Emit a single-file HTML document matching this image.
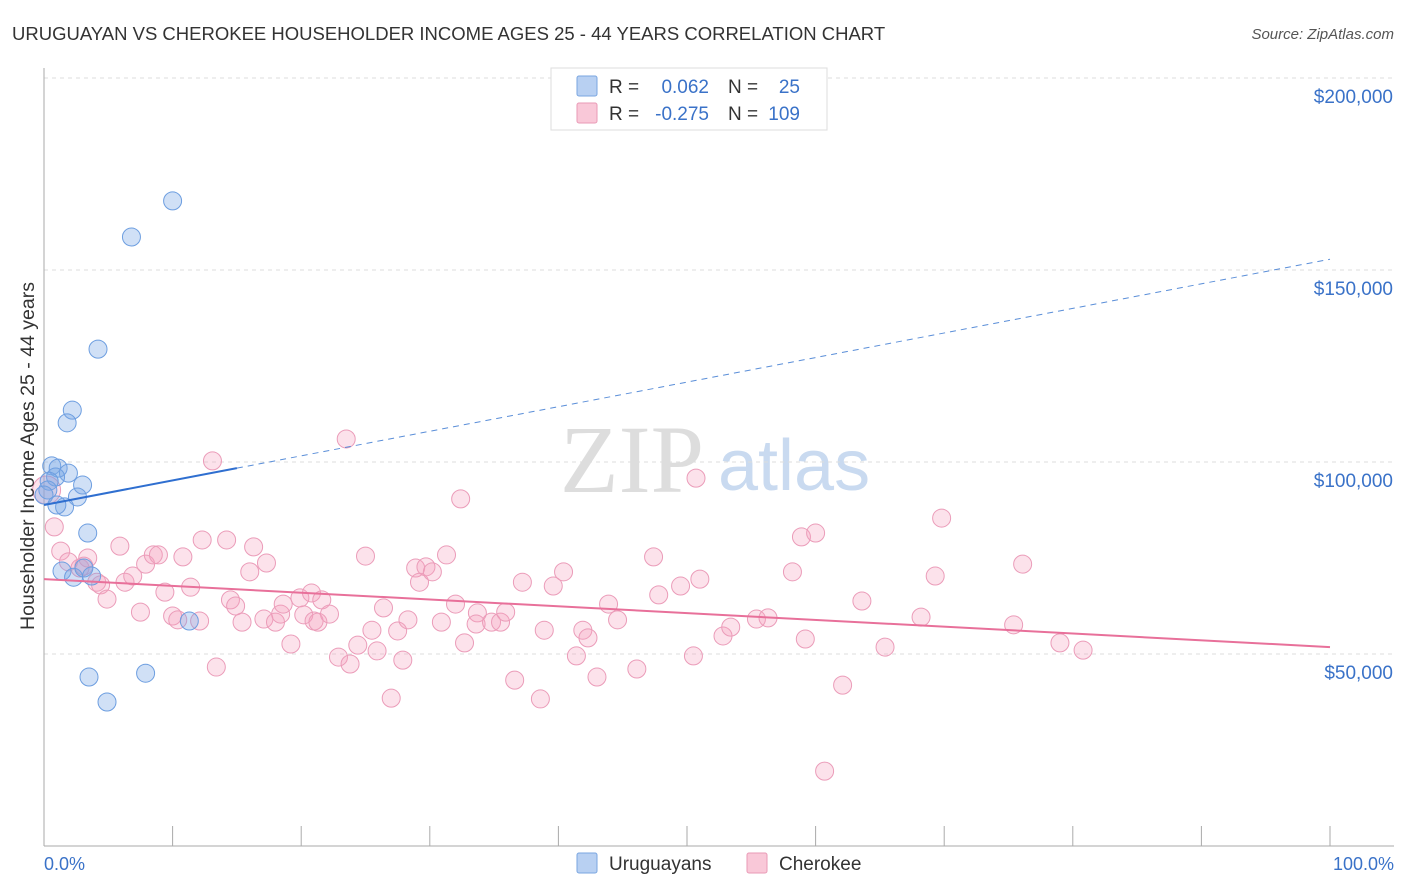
<!DOCTYPE html>
<html><head><meta charset="utf-8">
<style>
body{margin:0;background:#fff;font-family:"Liberation Sans",sans-serif;}
svg{display:block}
</style></head>
<body>
<svg id="chart" width="1406" height="892">
<text x="12" y="40" font-size="18.5" fill="#333">URUGUAYAN VS CHEROKEE HOUSEHOLDER INCOME AGES 25 - 44 YEARS CORRELATION CHART</text>
<text x="1394" y="39" font-size="15" fill="#555" font-style="italic" text-anchor="end">Source: ZipAtlas.com</text>
<text x="560" y="492" font-size="96" fill="#ddd" font-family="Liberation Serif,serif">ZIP</text>
<text x="718" y="490" font-size="72" fill="#c9daf0">atlas</text>
<g id="grid"></g>
<g id="axes"></g>
<g id="marks"></g>
<text transform="translate(34,456) rotate(-90)" font-size="19.5" fill="#333" text-anchor="middle">Householder Income Ages 25 - 44 years</text>
<text x="44" y="870" font-size="18" fill="#3a72c8">0.0%</text>
<text x="1394" y="870" font-size="18" fill="#3a72c8" text-anchor="end">100.0%</text>
<g>
<rect x="551" y="68" width="276" height="62" fill="#fff" stroke="#ddd"/>
<rect x="577" y="76" width="20" height="20" fill="#b8d0f2" stroke="#7aa6e0" rx="2"/>
<rect x="577" y="103" width="20" height="20" fill="#f9c8d8" stroke="#e99ab6" rx="2"/>
<text x="609" y="93" font-size="19" fill="#333">R =</text>
<text x="709" y="93" font-size="19" fill="#3a72c8" text-anchor="end">0.062</text>
<text x="728" y="93" font-size="19" fill="#333">N =</text>
<text x="800" y="93" font-size="19" fill="#3a72c8" text-anchor="end">25</text>
<text x="609" y="120" font-size="19" fill="#333">R =</text>
<text x="709" y="120" font-size="19" fill="#3a72c8" text-anchor="end">-0.275</text>
<text x="728" y="120" font-size="19" fill="#333">N =</text>
<text x="800" y="120" font-size="19" fill="#3a72c8" text-anchor="end">109</text>
</g>
<g>
<rect x="577" y="853" width="20" height="20" fill="#b8d0f2" stroke="#7aa6e0" rx="2"/>
<text x="609" y="870" font-size="19" fill="#333">Uruguayans</text>
<rect x="747" y="853" width="20" height="20" fill="#f9c8d8" stroke="#e99ab6" rx="2"/>
<text x="779" y="870" font-size="19" fill="#333">Cherokee</text>
</g>
</svg>
<script>
const yTicks=[50000,100000,150000,200000];
const yTickLabels=["$50,000","$100,000","$150,000","$200,000"];
const xTicks=[0,10,20,30,40,50,60,70,80,90,100];
const uruX=[10.0,6.8,4.2,2.2,1.8,0.6,1.1,1.9,0.9,0.4,3.0,2.6,1.6,3.4,1.4,2.3,3.1,3.7,11.3,3.5,7.9,4.9,0.3,0,1.0];
const uruY=[168000,158600,129400,113500,110200,99000,98400,97100,96100,95000,94000,90900,88300,81500,71600,70000,72400,70300,58600,44000,45000,37500,92700,91400,88800];
const cheX=[0.2,0.8,1.3,1.9,2.8,3.4,4.1,3.1,4.4,4.9,5.9,6.3,6.9,7.5,7.9,8.5,8.9,9.4,10.0,10.4,10.8,11.4,12.1,12.3,13.1,13.4,14.2,14.5,14.9,15.4,16.0,16.3,17.1,17.3,18.0,18.4,18.6,19.2,19.9,20.2,20.8,21.0,21.3,21.6,22.2,22.9,23.5,23.8,24.4,25.0,25.5,25.9,26.4,27.0,27.5,27.9,28.3,28.9,29.2,29.7,30.2,30.9,31.3,32.0,32.4,32.7,33.7,33.6,34.8,35.5,35.9,36.6,37.2,38.6,38.9,39.6,40.4,41.4,41.9,42.3,43.0,43.9,44.6,46.1,47.4,47.8,49.5,50.5,50.7,51.0,52.8,53.4,55.4,56.3,58.2,58.9,59.2,60.0,60.7,62.1,63.6,65.4,68.2,69.3,69.8,75.4,76.1,79.0,80.8];
const cheY=[92700,83100,76800,74000,72400,75000,68700,72900,68000,64300,78100,68700,70300,60900,73400,75800,75800,66100,59900,58900,75300,67400,58600,79700,100300,46600,79700,64100,62500,58300,71400,77900,59100,73700,58300,60400,63000,52600,64600,60200,65900,58600,58300,64100,60400,49200,106000,47400,52300,75500,56200,50800,62000,38500,56000,48400,58900,72400,68700,72700,71400,58300,75800,63000,90400,52900,60700,57800,58300,58300,60900,43200,68700,38300,56200,67700,71400,49500,56200,54200,44000,63000,58900,46100,75300,65400,67700,49500,95800,69500,54700,57000,59100,59400,71400,80500,53900,81500,19500,41900,63800,51800,59600,70300,85400,57600,73400,52900,51000];
const uruTrend=[88800,152800];
const uruSolidEnd=[15];
const cheTrend=[69500,51800];

const NS="http://www.w3.org/2000/svg";
const X=p=>44+p*12.86;
const Y=v=>846-v*192/50000;
function mk(tag,attrs,parent){const e=document.createElementNS(NS,tag);for(const k in attrs)e.setAttribute(k,attrs[k]);parent.appendChild(e);return e;}
const grid=document.getElementById('grid'),axes=document.getElementById('axes'),marks=document.getElementById('marks');
yTicks.forEach((t,i)=>{
  const l=mk('line',{x1:44,x2:1394,y1:Y(t),y2:Y(t),stroke:'#ddd','stroke-dasharray':'4,4'},grid);
  
  
  const tx=mk('text',{x:1393,y:Y(t)+25,'font-size':19,fill:'#3a72c8','text-anchor':'end'},axes);
  tx.textContent=yTickLabels[i];
  
  
});
const ax=mk('line',{x1:44,x2:44,y1:68,y2:846,stroke:'#aaa'},axes);


const bx=mk('line',{x1:44,x2:1394,y1:846,y2:846,stroke:'#aaa'},axes);


xTicks.forEach(t=>{
  const l=mk('line',{x1:X(t),x2:X(t),y1:826,y2:846,stroke:'#aaa'},axes);
  
  
});
cheX.forEach((x,i)=>{
  const c=mk('circle',{cx:X(x),cy:Y(cheY[i]),r:i===0?14:9,fill:'rgba(244,160,190,0.3)',stroke:'#eb9cb9','stroke-width':1},marks);
  
  
});
uruX.forEach((x,i)=>{
  const c=mk('circle',{cx:X(x),cy:Y(uruY[i]),r:9,fill:'rgba(120,165,230,0.35)',stroke:'#6d9ee0','stroke-width':1},marks);
  
  
});
const ub=p=>uruTrend[0]+(uruTrend[1]-uruTrend[0])*p/100;
const l1=mk('line',{x1:X(0),y1:Y(ub(0)),x2:X(uruSolidEnd[0]),y2:Y(ub(uruSolidEnd[0])),stroke:'#2f6fd0','stroke-width':2},marks);


const l2=mk('line',{x1:X(uruSolidEnd[0]),y1:Y(ub(uruSolidEnd[0])),x2:X(100),y2:Y(ub(100)),stroke:'#5a8ed8','stroke-width':1,'stroke-dasharray':'6,5'},marks);


const l3=mk('line',{x1:X(0),y1:Y(cheTrend[0]),x2:X(100),y2:Y(cheTrend[1]),stroke:'#e8709a','stroke-width':2},marks);


</script>
</body></html>
